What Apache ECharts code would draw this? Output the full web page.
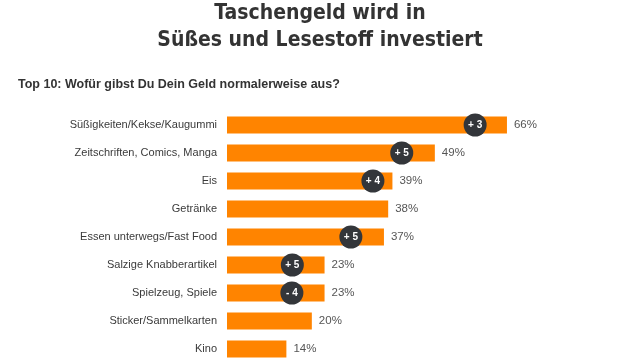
<!DOCTYPE html>
<html><head><meta charset="utf-8">
<script src="https://cdn.jsdelivr.net/npm/echarts@6/dist/echarts.min.js"></script>
<style>html,body{margin:0;padding:0;background:#fff}#c{width:640px;height:360px}</style>
</head><body><div id="c"></div>
<script>
const categories = ["Süßigkeiten/Kekse/Kaugummi","Zeitschriften, Comics, Manga","Eis","Getränke","Essen unterwegs/Fast Food","Salzige Knabberartikel","Spielzeug, Spiele","Sticker/Sammelkarten","Kino"];
const values = [66,49,39,38,37,23,23,20,14];
const changes = ["+ 3","+ 5","+ 4",null,"+ 5","+ 5","- 4",null,null];
const badgeAt = [58.5,41.2,34.4,null,29.2,15.4,15.3,null,null];

const chart = echarts.init(document.getElementById('c'));
const badgeData = [];
categories.forEach((c,i)=>{ if(changes[i]) badgeData.push({value:[badgeAt[i], c], label:changes[i]}); });
chart.setOption({
  animation:false,
  title:[
    {text:"Taschengeld wird in\nSüßes und Lesestoff investiert", left:'center', top:-5,
     textStyle:{fontFamily:"'DejaVu Sans Condensed',sans-serif", fontWeight:'bold', fontSize:21, lineHeight:27, color:'#333'}},
    {text:"Top 10: Wofür gibst Du Dein Geld normalerweise aus?", left:13, top:73,
     textStyle:{fontFamily:"'Liberation Sans',Arial,sans-serif", fontWeight:'bold', fontSize:12.5, color:'#333'}}
  ],
  grid:{left:227, right:13, top:111, height:252, containLabel:false, outerBoundsMode:'none'},
  xAxis:{type:'value', min:0, max:94.3, show:false},
  yAxis:{type:'category', data:categories, inverse:true,
    axisLine:{show:false}, axisTick:{show:false},
    axisLabel:{margin:10, fontSize:11, color:'#3a3a3a', fontFamily:"'Liberation Sans',Arial,sans-serif"}},
  series:[
    {type:'bar', data:values, barWidth:17, itemStyle:{color:'#FF8400'},
     label:{show:true, position:'right', distance:7, formatter:'{c}%', fontSize:11.5, color:'#555', fontFamily:"'Liberation Sans',Arial,sans-serif"}},
    {type:'scatter', data:badgeData, symbolSize:23, itemStyle:{color:'#33363a', opacity:1}, z:5,
     label:{show:true, position:'inside', formatter:p=>p.data.label, color:'#fff', fontSize:10, fontWeight:'bold', fontFamily:"'Liberation Sans',Arial,sans-serif"}}
  ]
});
</script></body></html>
